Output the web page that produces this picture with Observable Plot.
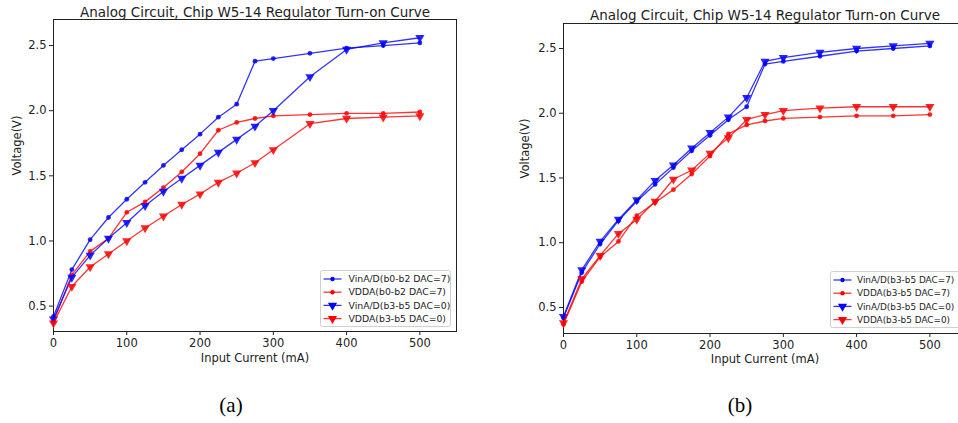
<!DOCTYPE html>
<html>
<head>
<meta charset="utf-8">
<script src="https://cdn.jsdelivr.net/npm/d3@7"></script>
<script src="https://cdn.jsdelivr.net/npm/@observablehq/plot@0.6"></script>
<style>
  html, body { margin: 0; padding: 0; background: #fff; }
  #wrap { position: relative; width: 958px; height: 423px; overflow: hidden; background: #fff; font-family: "DejaVu Sans", sans-serif; }
  .panel { position: absolute; top: 0; }
  .cap { position: absolute; font-family: "Liberation Serif", "DejaVu Serif", serif; font-size: 21px; color: #000; transform: translate(-50%, -50%); }
</style>
</head>
<body>
<div id="wrap"></div>
<script>
// ---------- data ----------
const currents = [0, 25, 50, 75, 100, 125, 150, 175, 200, 225, 250, 275, 300, 350, 400, 450, 500];

// panel (a)
const aVinDac7  = [0.42, 0.78, 1.01, 1.18, 1.32, 1.45, 1.58, 1.70, 1.82, 1.95, 2.05, 2.38, 2.40, 2.44, 2.48, 2.50, 2.52];
const aVddaDac7 = [0.38, 0.74, 0.92, 1.02, 1.22, 1.30, 1.41, 1.53, 1.67, 1.85, 1.91, 1.94, 1.96, 1.97, 1.98, 1.98, 1.99];
const aVinDac0  = [0.40, 0.72, 0.89, 1.02, 1.14, 1.27, 1.38, 1.48, 1.58, 1.68, 1.78, 1.88, 2.00, 2.26, 2.47, 2.52, 2.56];
const aVddaDac0 = [0.37, 0.65, 0.80, 0.90, 1.00, 1.10, 1.19, 1.28, 1.36, 1.45, 1.52, 1.60, 1.70, 1.90, 1.94, 1.95, 1.96];
const aNames = ["VinA/D(b0-b2 DAC=7)", "VDDA(b0-b2 DAC=7)", "VinA/D(b3-b5 DAC=0)", "VDDA(b3-b5 DAC=0)"];

// panel (b)
const bVinDac7  = [0.42, 0.77, 0.99, 1.17, 1.32, 1.45, 1.58, 1.71, 1.83, 1.95, 2.05, 2.38, 2.40, 2.44, 2.48, 2.50, 2.52];
const bVddaDac7 = [0.37, 0.70, 0.89, 1.01, 1.21, 1.31, 1.41, 1.53, 1.67, 1.84, 1.91, 1.94, 1.96, 1.97, 1.98, 1.98, 1.99];
const bVinDac0  = [0.43, 0.79, 1.01, 1.18, 1.33, 1.48, 1.60, 1.73, 1.85, 1.97, 2.12, 2.40, 2.43, 2.47, 2.50, 2.52, 2.54];
const bVddaDac0 = [0.38, 0.72, 0.90, 1.07, 1.18, 1.32, 1.49, 1.56, 1.69, 1.81, 1.95, 1.99, 2.02, 2.04, 2.05, 2.05, 2.05];
const bNames = ["VinA/D(b3-b5 DAC=7)", "VDDA(b3-b5 DAC=7)", "VinA/D(b3-b5 DAC=0)", "VDDA(b3-b5 DAC=0)"];

const titleText = "Analog Circuit, Chip W5-14 Regulator Turn-on Curve";
const xLabel = "Input Current (mA)";
const yLabel = "Voltage(V)";
const xTicks = [0, 100, 200, 300, 400, 500];
const yTicks = [0.5, 1.0, 1.5, 2.0, 2.5];
const seriesColors = ["#0000ff", "#ff0000", "#0000ff", "#ff0000"];
const seriesMarkers = ["dot", "dot", "tri", "tri"];

// ---------- helpers ----------
const triDown = {
  draw(context, size) {
    const y = -Math.sqrt(size / (Math.sqrt(3) * 3));
    context.moveTo(0, -y * 2);
    context.lineTo(-Math.sqrt(3) * y, y);
    context.lineTo(Math.sqrt(3) * y, y);
    context.closePath();
  }
};
const TRI_R = 3.4;

function makeRows(seriesList, names) {
  const rows = [];
  seriesList.forEach((vals, i) => {
    vals.forEach((v, j) => rows.push({x: currents[j], y: v, s: names[i], i}));
  });
  return rows;
}

function panel(seriesList, names, opts) {
  const rows = makeRows(seriesList, names);
  const marks = [
    Plot.frame({stroke: "#222", strokeWidth: 1})
  ];
  names.forEach((n, i) => {
    const d = rows.filter(r => r.i === i);
    marks.push(Plot.line(d, {x: "x", y: "y", stroke: seriesColors[i], strokeWidth: 1.3, strokeOpacity: 0.8}));
    if (seriesMarkers[i] === "dot") {
      marks.push(Plot.dot(d, {x: "x", y: "y", fill: seriesColors[i], fillOpacity: 0.85, r: 2.4, stroke: "none"}));
    } else {
      marks.push(Plot.dot(d, {x: "x", y: "y", fill: seriesColors[i], fillOpacity: 0.85, r: TRI_R, symbol: triDown, stroke: "none"}));
    }
  });
  marks.push(Plot.text([titleText], {frameAnchor: "top", dy: opts.titleDy, fontSize: 13.5, fill: "#222"}));
  marks.push(Plot.text([xLabel], {frameAnchor: "bottom", dy: opts.xLabelDy, fontSize: 11.5, fill: "#222"}));
  marks.push(Plot.text([yLabel], {frameAnchor: "left", dx: opts.yLabelDx, rotate: -90, fontSize: 11.5, fill: "#222"}));

  const svg = Plot.plot({
    width: opts.width,
    height: 370,
    marginLeft: 53,
    marginRight: opts.marginRight,
    marginTop: opts.marginTop,
    marginBottom: 370 - opts.frameBottom,
    style: {fontFamily: "DejaVu Sans, sans-serif", fontSize: "11.5px", color: "#222", background: "transparent", overflow: "visible"},
    x: {domain: [0, 550], ticks: xTicks, tickSize: 4, tickPadding: 3, tickFormat: d3.format("d"), label: null},
    y: {domain: opts.yDomain, ticks: yTicks, tickSize: 4, tickPadding: 3, tickFormat: d3.format(".1f"), label: null},
    marks
  });

  // legend
  const s = d3.select(svg);
  const lg = s.append("g").attr("transform", `translate(${opts.legendX},${opts.legendY})`)
    .attr("text-anchor", "start");
  lg.append("rect").attr("x", 0).attr("y", 0).attr("width", opts.legendW).attr("height", 56)
    .attr("rx", 2).attr("fill", "#fff").attr("fill-opacity", 0.85).attr("stroke", "#d0d0d0");
  names.forEach((n, i) => {
    const yy = 8.5 + i * 13.2;
    lg.append("line").attr("x1", 3).attr("x2", 21).attr("y1", yy).attr("y2", yy)
      .attr("stroke", seriesColors[i]).attr("stroke-opacity", 0.8).attr("stroke-width", 1.3);
    if (seriesMarkers[i] === "dot") {
      lg.append("circle").attr("cx", 12).attr("cy", yy).attr("r", 2.2).attr("fill", seriesColors[i]);
    } else {
      lg.append("path").attr("d", d3.symbol(triDown, Math.PI * TRI_R * TRI_R)())
        .attr("transform", `translate(12,${yy})`).attr("fill", seriesColors[i]);
    }
    lg.append("text").attr("x", opts.legendTextX).attr("y", yy).attr("dy", "0.35em")
      .attr("text-anchor", "start")
      .attr("font-size", opts.legendFont).attr("fill", "#222").text(n);
  });
  return svg;
}

const wrap = document.getElementById("wrap");

const left = panel([aVinDac7, aVddaDac7, aVinDac0, aVddaDac0], aNames, {
  width: 480, marginRight: 24, marginTop: 19, frameBottom: 331,
  yDomain: [0.305, 2.70], titleDy: -12, xLabelDy: 30, yLabelDx: -36,
  legendX: 320.5, legendY: 270.5, legendW: 130, legendTextX: 28, legendFont: 9.3
});
left.classList.add("panel");
left.style.left = "0px";
wrap.appendChild(left);

const right = panel([bVinDac7, bVddaDac7, bVinDac0, bVddaDac0], bNames, {
  width: 480, marginRight: 24, marginTop: 23, frameBottom: 333,
  yDomain: [0.299, 2.693], titleDy: -13, xLabelDy: 29, yLabelDx: -38,
  legendX: 320.5, legendY: 271.5, legendW: 130, legendTextX: 26.5, legendFont: 8.9
});
right.classList.add("panel");
right.style.left = "510px";
wrap.appendChild(right);

const capA = document.createElement("div");
capA.className = "cap"; capA.textContent = "(a)";
capA.style.left = "231px"; capA.style.top = "405px";
wrap.appendChild(capA);
const capB = document.createElement("div");
capB.className = "cap"; capB.textContent = "(b)";
capB.style.left = "740px"; capB.style.top = "405px";
wrap.appendChild(capB);
</script>
</body>
</html>
